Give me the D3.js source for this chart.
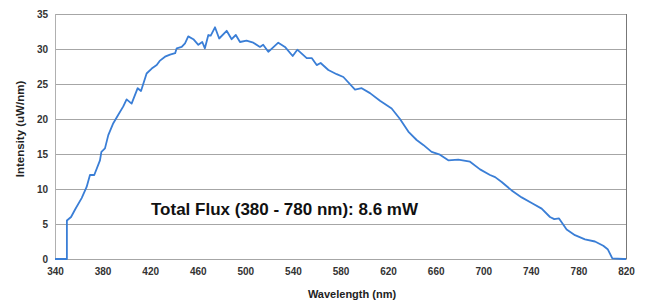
<!DOCTYPE html>
<html>
<head>
<meta charset="utf-8">
<script src="https://cdn.jsdelivr.net/npm/d3@7"></script>
<style>
  body { margin: 0; background: #fff; }
  svg text { font-family: "Liberation Sans", Arial, sans-serif; fill: #222; }
</style>
</head>
<body>
<div class="chart"></div>
<script>
const width = 647;
const height = 302;

// spectrum
const wavelength = [340, 350, 350, 353.5, 357, 362.4, 366.6, 369.4, 373, 377.8, 379, 382, 384.8, 389, 393.2,
  397.4, 400.2, 404.4, 409.5, 412.3, 417, 421.3, 425.5, 428, 432.5, 436.7, 441, 442.3, 446.5, 449.3,
  452, 456.3, 460.5, 463.8, 466, 468.9, 470.9, 474.5, 478, 484.3, 488.5, 492, 495.5, 501, 506.7,
  512.3, 515, 519.3, 527.7, 533.3, 539.8, 543.7, 551.6, 555.8, 560, 563.3, 569.8, 576.8, 582.4,
  592.2, 597.8, 604.8, 613.2, 623, 630, 637, 644, 649.6, 656.6, 663.6, 670.6, 679, 688.9, 697.3,
  705.7, 710, 715.5, 723.9, 732.3, 740.7, 749.1, 756.1, 759.7, 763.7, 770.1, 777.1, 785.5, 793.9,
  800.9, 804.6, 808.5, 817.7, 820];
const intensity = [0, 0, 5.5, 6.0, 7.1, 8.7, 10.3, 12.0, 12.0, 14.1, 15.3, 15.8, 17.7, 19.4, 20.6,
  21.8, 22.8, 22.2, 24.4, 24.0, 26.5, 27.2, 27.7, 28.3, 28.9, 29.2, 29.4, 30.1, 30.3, 30.8,
  31.8, 31.4, 30.6, 31.0, 30.1, 32.0, 31.9, 33.1, 31.5, 32.6, 31.4, 32.0, 31.0, 31.2, 30.9,
  30.3, 30.6, 29.6, 30.9, 30.3, 29.0, 29.9, 28.7, 28.7, 27.7, 28.0, 27.0, 26.4, 26.0,
  24.2, 24.4, 23.7, 22.6, 21.5, 20.0, 18.2, 17.0, 16.3, 15.3, 14.9, 14.1, 14.2, 13.9, 12.8,
  12.0, 11.7, 11.0, 9.8, 8.8, 8.0, 7.2, 6.0, 5.7, 5.8, 4.2, 3.4, 2.8, 2.5,
  1.9, 1.4, 0.1, 0, 0];

const xTicks = [340, 380, 420, 460, 500, 540, 580, 620, 660, 700, 740, 780, 820];
const yTicks = [0, 5, 10, 15, 20, 25, 30, 35];

const data = wavelength.map((w, i) => ({w: w, v: intensity[i]}));

const plotLeft = 55;
const plotRight = 626;
const plotTop = 14;
const plotBottom = 259;

const svg = d3
    .select('div.chart')
    .append('svg')
    .attr('width', width)
    .attr('height', height);

const x = d3.scaleLinear().domain([340, 820]).range([plotLeft, plotRight]);
const y = d3.scaleLinear().domain([0, 35]).range([plotBottom, plotTop]);

// horizontal gridlines
svg
    .selectAll('.grid')
    .data(yTicks)
    .enter()
    .append('line')
    .attr('class', 'grid')
    .attr('x1', plotLeft)
    .attr('x2', plotRight)
    .attr('y1', (d) => y(d) + 0.5)
    .attr('y2', (d) => y(d) + 0.5)
    .attr('stroke', '#a6a6a6')
    .attr('stroke-width', 1);

// plot border sides
svg.append('line')
    .attr('x1', plotLeft + 0.5).attr('x2', plotLeft + 0.5)
    .attr('y1', plotTop).attr('y2', plotBottom)
    .attr('stroke', '#b0b0b0');
svg.append('line')
    .attr('x1', plotRight + 0.5).attr('x2', plotRight + 0.5)
    .attr('y1', plotTop).attr('y2', plotBottom + 0.5)
    .attr('stroke', '#777');

const xAxis = svg.append('g')
    .attr('transform', 'translate(0,' + plotBottom + ')')
    .call(d3.axisBottom(x).tickValues(xTicks).tickSize(0).tickPadding(9));
xAxis.select('.domain').remove();
xAxis.selectAll('text')
    .attr('font-size', '10px')
    .attr('font-weight', 'bold')
    .style('fill', '#333');

const yAxis = svg.append('g')
    .attr('transform', 'translate(' + plotLeft + ',0)')
    .call(d3.axisLeft(y).tickValues(yTicks).tickSize(0).tickPadding(7));
yAxis.select('.domain').remove();
yAxis.selectAll('text')
    .attr('font-size', '10px')
    .attr('font-weight', 'bold')
    .style('fill', '#333');

const line = d3.line()
    .x((d) => x(d.w))
    .y((d) => y(d.v));

svg.append('path')
    .datum(data)
    .attr('d', line)
    .attr('fill', 'none')
    .attr('stroke', '#3a7ed6')
    .attr('stroke-width', 1.8)
    .attr('stroke-linejoin', 'round');

svg.append('text')
    .attr('x', 352)
    .attr('y', 298)
    .attr('text-anchor', 'middle')
    .attr('font-size', '11px')
    .attr('font-weight', 'bold')
    .text('Wavelength (nm)');

svg.append('text')
    .attr('transform', 'translate(24,129) rotate(-90)')
    .attr('text-anchor', 'middle')
    .attr('font-size', '11.5px')
    .attr('font-weight', 'bold')
    .text('Intensity (uW/nm)');

svg.append('text')
    .attr('x', 151)
    .attr('y', 215)
    .attr('font-size', '17px')
    .attr('font-weight', 'bold')
    .style('fill', '#111')
    .text('Total Flux (380 - 780 nm): 8.6 mW');
</script>
</body>
</html>
